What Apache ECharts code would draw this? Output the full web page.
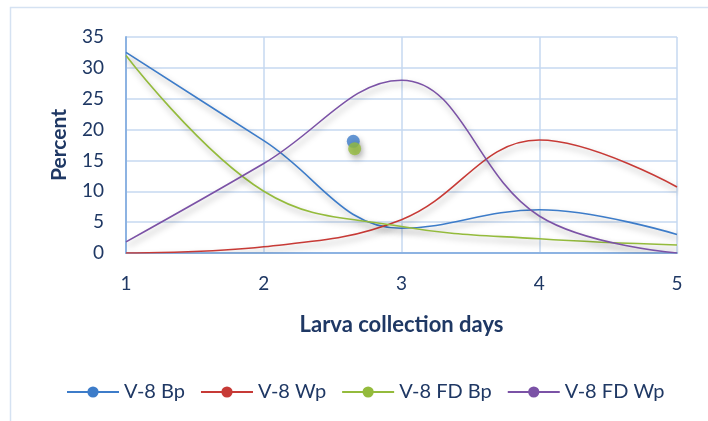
<!DOCTYPE html>
<html>
<head>
<meta charset="utf-8">
<script src="https://cdn.jsdelivr.net/npm/echarts@6/dist/echarts.min.js"></script>
<style>
  html, body { margin: 0; padding: 0; background: #ffffff; }
  #chart { width: 708px; height: 421px; }
</style>
</head>
<body>
<div id="chart"></div>
<script>
// Collection days on the x axis
const days = [1, 2, 3, 4, 5];

// Percent values per series
const v8Bp   = [32.5, 18.2, 4.0, 7.0, 3.0];
const v8Wp   = [0.0, 1.0, 5.4, 18.3, 10.7];
const v8FdBp = [32.0, 10.0, 4.3, 2.3, 1.3];
const v8FdWp = [1.8, 14.5, 28.0, 6.0, 0.0];

// Two isolated single points plotted near day 2.65
const loneBp   = [2.65, 18.1];
const loneFdBp = [2.66, 16.9];

const yTicks = { min: 0, max: 35, step: 5 };

const names = ['V-8 Bp', 'V-8 Wp', 'V-8 FD Bp', 'V-8 FD Wp'];
const colors = ['#3d7cc9', '#c73a36', '#94bb3c', '#7b52a6'];
const textColor = '#1f3864';
const font = 'Lato, "Open Sans", sans-serif';

function pairs(values) {
  return days.map((d, i) => [d, values[i]]);
}

const shadow = {
  shadowColor: 'rgba(0,0,0,0.35)',
  shadowBlur: 6,
  shadowOffsetX: 2,
  shadowOffsetY: 4
};

function lineSeries(name, values, color) {
  return {
    name: name,
    type: 'line',
    data: pairs(values),
    smooth: 0.4,
    symbol: 'circle',
    symbolSize: 12,
    showSymbol: false,
    itemStyle: { color: color },
    lineStyle: Object.assign({ color: color, width: 1.6 }, shadow),
    z: 3
  };
}

const chart = echarts.init(document.getElementById('chart'), null, { renderer: 'canvas' });

chart.setOption({
  animation: false,
  backgroundColor: '#ffffff',
  graphic: [{
    type: 'rect',
    shape: { x: 10.5, y: 7.5, width: 760, height: 460 },
    style: { fill: 'none', stroke: '#d5e2f2', lineWidth: 1.5 },
    silent: true,
    z: -1
  }],
  grid: { left: 126, right: 31, top: 37, bottom: 168 },
  legend: {
    data: names,
    left: 61,
    top: 377,
    itemWidth: 52,
    itemHeight: 14,
    itemGap: 15,
    textStyle: { color: textColor, fontSize: 20, fontFamily: font }
  },
  xAxis: {
    type: 'value',
    min: 1,
    max: 5,
    interval: 1,
    name: 'Larva collection days',
    nameLocation: 'middle',
    nameGap: 61,
    nameTextStyle: { color: textColor, fontSize: 22, fontWeight: 'bold', fontFamily: font },
    axisLine: { show: true, lineStyle: { color: '#8db3e2', width: 2 } },
    axisTick: { show: false },
    axisLabel: { color: textColor, fontSize: 19, margin: 21, fontFamily: font },
    splitLine: { show: true, lineStyle: { color: '#c6d9f0', width: 1.5 } }
  },
  yAxis: {
    type: 'value',
    min: yTicks.min,
    max: yTicks.max,
    interval: yTicks.step,
    name: 'Percent',
    nameLocation: 'middle',
    nameGap: 56,
    nameTextStyle: { color: textColor, fontSize: 21, fontWeight: 'bold', fontFamily: font },
    axisLine: { show: true, lineStyle: { color: '#8db3e2', width: 2 } },
    axisTick: { show: false },
    axisLabel: { color: textColor, fontSize: 19, margin: 22, fontFamily: font },
    splitLine: { show: true, lineStyle: { color: '#c6d9f0', width: 1.5 } }
  },
  series: [
    lineSeries(names[0], v8Bp, colors[0]),
    lineSeries(names[1], v8Wp, colors[1]),
    lineSeries(names[2], v8FdBp, colors[2]),
    lineSeries(names[3], v8FdWp, colors[3]),
    {
      name: names[0],
      type: 'scatter',
      data: [loneBp],
      symbol: 'circle',
      symbolSize: 13,
      itemStyle: Object.assign({ color: colors[0] }, shadow),
      z: 4
    },
    {
      name: names[2],
      type: 'scatter',
      data: [loneFdBp],
      symbol: 'circle',
      symbolSize: 13,
      itemStyle: Object.assign({ color: colors[2] }, shadow),
      z: 5
    }
  ]
});
</script>
</body>
</html>
